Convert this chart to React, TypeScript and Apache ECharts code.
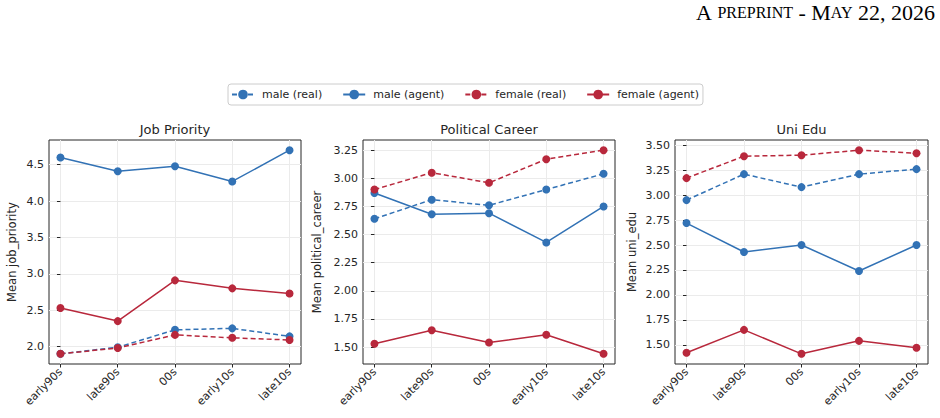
import React, { useEffect, useRef } from 'react';
import * as echarts from 'echarts';

const categories = ['early90s', 'late90s', '00s', 'early10s', 'late10s'];
const seriesNames = ['male (real)', 'male (agent)', 'female (real)', 'female (agent)'];

// Job Priority
const jobMaleReal = [1.90, 1.99, 2.23, 2.25, 2.14];
const jobMaleAgent = [4.60, 4.41, 4.48, 4.27, 4.70];
const jobFemaleReal = [1.90, 1.98, 2.16, 2.12, 2.09];
const jobFemaleAgent = [2.53, 2.35, 2.91, 2.80, 2.73];
const jobTicks = [2.0, 2.5, 3.0, 3.5, 4.0, 4.5];

// Political Career
const polMaleReal = [2.64, 2.81, 2.76, 2.90, 3.04];
const polMaleAgent = [2.87, 2.68, 2.69, 2.43, 2.75];
const polFemaleReal = [2.90, 3.05, 2.96, 3.17, 3.25];
const polFemaleAgent = [1.53, 1.65, 1.54, 1.61, 1.44];
const polTicks = [1.5, 1.75, 2.0, 2.25, 2.5, 2.75, 3.0, 3.25];

// Uni Edu
const uniMaleReal = [2.95, 3.21, 3.08, 3.21, 3.26];
const uniMaleAgent = [2.72, 2.43, 2.50, 2.24, 2.50];
const uniFemaleReal = [3.17, 3.39, 3.40, 3.45, 3.42];
const uniFemaleAgent = [1.42, 1.65, 1.41, 1.54, 1.47];
const uniTicks = [1.5, 1.75, 2.0, 2.25, 2.5, 2.75, 3.0, 3.25, 3.5];

const BLUE = '#3272b5';
const RED = '#b8283c';
const FONT = 'DejaVu Sans';
const TEXT = '#262626';

const panels = [
  { title: 'Job Priority', yName: 'Mean job_priority', ticks: jobTicks, digits: 1,
    data: [jobMaleReal, jobMaleAgent, jobFemaleReal, jobFemaleAgent], left: 49, width: 252, nameGap: 31 },
  { title: 'Political Career', yName: 'Mean political_career', ticks: polTicks, digits: 2,
    data: [polMaleReal, polMaleAgent, polFemaleReal, polFemaleAgent], left: 363, width: 252, nameGap: 40 },
  { title: 'Uni Edu', yName: 'Mean uni_edu', ticks: uniTicks, digits: 2,
    data: [uniMaleReal, uniMaleAgent, uniFemaleReal, uniFemaleAgent], left: 675, width: 253, nameGap: 37 },
];

const seriesStyle = [
  { color: BLUE, dashed: true },
  { color: BLUE, dashed: false },
  { color: RED, dashed: true },
  { color: RED, dashed: false },
];

export default function App() {
  const ref = useRef<HTMLDivElement>(null);
  useEffect(() => {
    if (!ref.current) return;
    const chart = echarts.init(ref.current, null, { renderer: 'svg' });
    const idx = categories.map((_, i) => i);

    const grids: any[] = [];
    const xAxes: any[] = [];
    const yAxes: any[] = [];
    const series: any[] = [];
    const titles: any[] = [];

    panels.forEach((p, pi) => {
      const all = p.data.flat();
      const lo = Math.min(...all);
      const hi = Math.max(...all);
      const pad = (hi - lo) * 0.05;
      grids.push({
        left: p.left, top: 140, width: p.width, height: 224,
        show: true, borderColor: TEXT, borderWidth: 1, backgroundColor: 'transparent',
      });
      xAxes.push({
        gridIndex: pi, type: 'value', min: -0.2, max: 4.2,
        axisLine: { show: false },
        axisTick: { show: true, customValues: idx, length: 3.5, lineStyle: { color: TEXT } },
        axisLabel: {
          customValues: idx, formatter: (v: number) => categories[Math.round(v)] ?? '',
          rotate: 45, fontSize: 11, color: TEXT, fontFamily: FONT, margin: 6,
        },
        splitLine: { show: true, lineStyle: { color: '#ebebeb', width: 1 } },
      });
      yAxes.push({
        gridIndex: pi, type: 'value', min: lo - pad, max: hi + pad,
        name: p.yName, nameLocation: 'middle', nameGap: p.nameGap,
        nameTextStyle: { fontSize: 11.5, color: TEXT, fontFamily: FONT },
        axisLine: { show: false },
        axisTick: { show: true, customValues: p.ticks, length: 3.5, lineStyle: { color: TEXT } },
        axisLabel: {
          customValues: p.ticks, formatter: (v: number) => v.toFixed(p.digits),
          fontSize: 11, color: TEXT, fontFamily: FONT, margin: 5,
        },
        splitLine: { show: true, lineStyle: { color: '#ebebeb', width: 1 } },
      });
      titles.push({
        text: p.title, left: p.left + p.width / 2, top: 123, textAlign: 'center', padding: 0,
        textStyle: { fontSize: 13, fontWeight: 'normal', color: TEXT, fontFamily: FONT },
      });
      p.data.forEach((vals, si) => {
        const st = seriesStyle[si];
        series.push({
          name: seriesNames[si], type: 'line', xAxisIndex: pi, yAxisIndex: pi,
          data: vals.map((v, i) => [i, v]),
          symbol: 'circle', symbolSize: 8, showSymbol: true,
          itemStyle: { color: st.color },
          lineStyle: { color: st.color, width: 1.5, type: st.dashed ? [5, 3] : 'solid' },
          emphasis: { disabled: true },
          z: 3,
        });
      });
    });

    chart.setOption({
      animation: false,
      textStyle: { fontFamily: FONT },
      title: titles,
      legend: {
        data: seriesNames, left: 228, top: 84,
        itemWidth: 22, itemHeight: 12, itemGap: 20,
        padding: [5, 4, 5, 3],
        borderColor: '#cccccc', borderWidth: 1, borderRadius: 3,
        backgroundColor: '#ffffff',
        textStyle: { fontSize: 11, color: TEXT, fontFamily: FONT, padding: [0, 0, 0, 3] },
      },
      graphic: [
        {
          type: 'text', right: 5, top: 1,
          style: {
            text: '{a|A }{b|PREPRINT}{a| - M}{b|AY}{a| 22, 2026}',
            rich: {
              a: { fontSize: 22, fontFamily: 'Liberation Serif', fill: '#000' },
              b: { fontSize: 16, fontFamily: 'Liberation Serif', fill: '#000' },
            },
          },
        },
      ],
      grid: grids,
      xAxis: xAxes,
      yAxis: yAxes,
      series,
    });
    return () => chart.dispose();
  }, []);
  return (
    <div ref={ref} style={{ position: 'absolute', left: 0, top: 0, width: 940, height: 418 }} />
  );
}
